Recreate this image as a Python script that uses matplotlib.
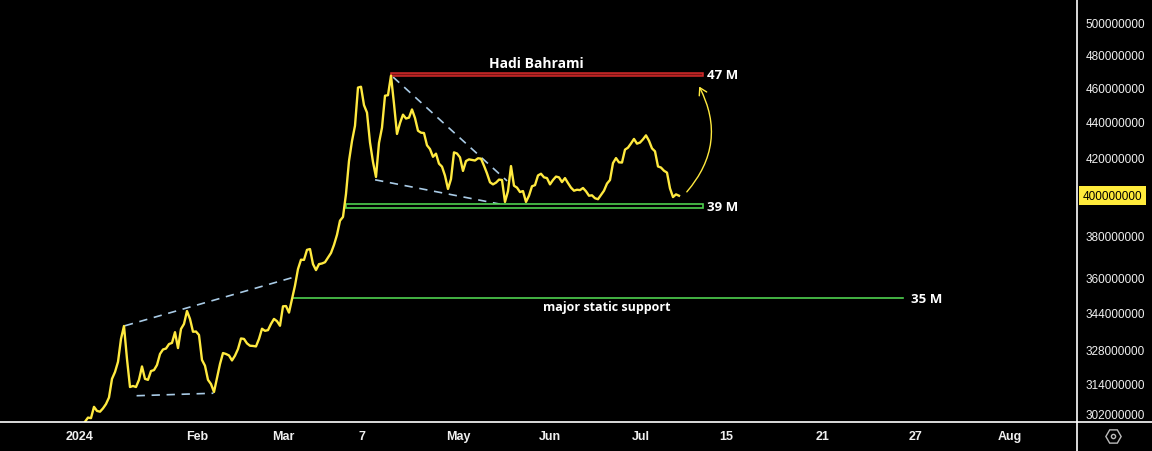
import numpy as np
import matplotlib
matplotlib.use("Agg")
import matplotlib.pyplot as plt
from matplotlib.patches import Rectangle, FancyArrowPatch
from matplotlib.lines import Line2D
from matplotlib.ticker import NullLocator
import matplotlib.transforms as mtransforms

# daily close (millions), one value per bar
price = [298.8, 300.4, 300.2, 304.6, 303.0, 302.7, 304.0, 305.7, 308.3, 315.8,
         318.6, 322.8, 332.5, 338.1, 324.0, 312.5, 312.9, 312.5, 315.4, 320.9,
         315.8, 315.4, 319.0, 319.4, 321.5, 326.1, 328.0, 328.4, 330.3, 330.8,
         335.4, 328.6, 336.8, 339.0, 344.7, 341.2, 335.6, 335.7, 334.2, 323.6,
         321.2, 315.4, 313.7, 310.5, 316.2, 321.9, 326.5, 326.1, 325.5, 323.4,
         325.4, 328.2, 332.7, 332.5, 330.6, 329.6, 329.5, 329.3, 332.5, 336.9,
         336.0, 336.3, 339.0, 341.2, 340.2, 338.2, 346.8, 346.9, 344.0, 350.1,
         356.2, 363.9, 368.3, 368.2, 373.0, 373.4, 366.2, 363.4, 366.2, 366.5,
         367.1, 369.3, 371.5, 375.4, 380.3, 387.3, 389.2, 400.9, 418.3, 429.2,
         437.8, 459.9, 460.4, 449.6, 445.3, 428.5, 417.8, 409.8, 428.2, 436.7,
         455.1, 455.4, 467.0, 450.4, 433.2, 439.3, 444.1, 441.9, 442.4, 447.1,
         442.2, 435.0, 433.9, 433.7, 426.9, 424.8, 420.6, 422.3, 416.9, 415.3,
         410.5, 403.5, 408.7, 423.0, 422.4, 420.3, 413.0, 418.3, 419.2, 418.9,
         418.6, 419.8, 419.6, 415.8, 411.7, 407.0, 405.9, 406.8, 408.4, 408.2,
         396.8, 402.4, 415.6, 405.2, 404.2, 401.9, 402.4, 396.8, 400.0, 404.9,
         405.5, 410.6, 411.5, 409.6, 409.2, 405.9, 408.2, 410.0, 409.6, 407.1,
         409.2, 406.6, 404.2, 402.6, 403.1, 402.9, 404.0, 402.3, 400.0, 400.2,
         398.7, 398.2, 400.4, 402.6, 406.3, 408.2, 417.2, 419.9, 417.6, 417.5,
         424.5, 425.6, 427.9, 430.4, 427.8, 428.4, 430.2, 432.4, 429.4, 425.2,
         423.6, 415.4, 414.8, 413.1, 412.1, 403.8, 399.3, 400.7, 400.0]

# axis labels (bar index of each date label)
tick_labels = ['2024', 'Feb', 'Mar', '7', 'May', 'Jun', 'Jul', '15', '21', '27', 'Aug']
tick_bars = [-1.7, 37.3, 66.0, 92.3, 124.3, 155.0, 185.3, 213.7, 245.7, 276.7, 308.3]
price_ticks = [302, 314, 328, 344, 360, 380, 420, 440, 460, 480, 500]
last_price = 400

# drawings: (bar, price) pairs
resist_zone = (102, 206, 467.0, 468.6)     # bar start, bar end, low, high
support_zone = (87, 206, 393.7, 395.7)
major_support = (69.3, 272.7, 350.5)
trend_lines = [[(13.3, 338.2), (69.4, 360.0)],
               [(17.2, 309.0), (42.8, 310.0)],
               [(102.7, 466.2), (140.7, 407.7)],
               [(96.7, 408.3), (138.3, 395.7)]]

yellow = '#ffe93f'
green = '#4fd04f'
M = 1e6

fig = plt.figure(figsize=(11.52, 4.52), dpi=100, facecolor='black')
ax = fig.add_axes([0, 29/452, 1077/1152, 423/452])
ax.set_facecolor('black')

bars = np.arange(len(price))
ax.plot(bars, np.array(price)*M, color=yellow, lw=1.7, zorder=5)

ax.set_yscale('log')
ax.set_ylim(298.7*M, 515.6*M)
ax.set_xlim(-28.33, 330.67)

# zones and lines
x0, x1, lo, hi = resist_zone
ax.add_patch(Rectangle((x0, lo*M), x1-x0, (hi-lo)*M, fc='#7a1414', ec='#d22a2a', lw=1.1, zorder=4))
x0, x1, lo, hi = support_zone
ax.add_patch(Rectangle((x0, lo*M), x1-x0, (hi-lo)*M, fc='black', ec=green, lw=1.2, zorder=4))
ax.plot([major_support[0], major_support[1]], [major_support[2]*M]*2, color=green, lw=1.2, zorder=4)

for seg in trend_lines:
    ax.plot([seg[0][0], seg[1][0]], [seg[0][1]*M, seg[1][1]*M], color='#a9cbe6',
            lw=1.2, ls=(0, (5, 4)), zorder=3)

arr = FancyArrowPatch((200, 400.9*M), (204.3, 462.0*M), connectionstyle='arc3,rad=0.35',
                      arrowstyle='->,head_length=5,head_width=3', color=yellow, lw=1.0, zorder=6)
ax.add_patch(arr)

tf = dict(color='white', fontweight='bold', family='Open Sans')
ax.text(150.3, 474.7*M, 'Hadi Bahrami', ha='center', va='center', fontsize=10, **tf)
ax.text(207.3, 468.0*M, '47 M', ha='left', va='center', fontsize=9.5, **tf)
ax.text(207.3, 394.7*M, '39 M', ha='left', va='center', fontsize=9.5, **tf)
ax.text(275.3, 350.5*M, '35 M', ha='left', va='center', fontsize=9.5, **tf)
ax.text(174.0, 346.9*M, 'major static support', ha='center', va='center', fontsize=9, **tf)

# axes styling
for s in ['top', 'left', 'right', 'bottom']:
    ax.spines[s].set_visible(False)
ax.yaxis.tick_right()
ax.set_yticks([p*M for p in price_ticks])
ax.set_yticklabels([str(int(p*M)) for p in price_ticks])
ax.yaxis.set_minor_locator(NullLocator())
ax.tick_params(axis='y', length=0, pad=6, labelsize=8.5, labelcolor='#f0f0f0')
for lab in ax.get_yticklabels():
    lab.set_family('Liberation Sans')

ax.set_xticks(tick_bars)
ax.set_xticklabels(tick_labels)
ax.tick_params(axis='x', length=0, pad=6, labelsize=9, labelcolor='#f0f0f0')
for lab in ax.get_xticklabels():
    lab.set_family('Liberation Sans')
    lab.set_fontweight('bold')

trans = mtransforms.blended_transform_factory(ax.transAxes, ax.transData)
ax.text(1 + 6/1077, last_price*M, str(int(last_price*M)), transform=trans, ha='left', va='center',
        fontsize=8.5, color='black', family='Liberation Sans', clip_on=False,
        bbox=dict(boxstyle='square,pad=0.3', fc='#ffeb3b', ec='none'))

# frame lines of the chart window
fig.add_artist(Line2D([0, 1], [29/452, 29/452], color='white', lw=1.2, transform=fig.transFigure))
fig.add_artist(Line2D([1077/1152, 1077/1152], [0, 1], color='white', lw=1.2, transform=fig.transFigure))
fig.add_artist(Line2D([1113/1152], [1 - 437/452], marker='H', ms=11, mfc='none', mec='#bbbbbb',
                      mew=1.0, transform=fig.transFigure))
fig.add_artist(Line2D([1113/1152], [1 - 437/452], marker='o', ms=3, mfc='none', mec='#bbbbbb',
                      mew=1.0, transform=fig.transFigure))

fig.savefig('out.png', dpi=100, facecolor='black')
